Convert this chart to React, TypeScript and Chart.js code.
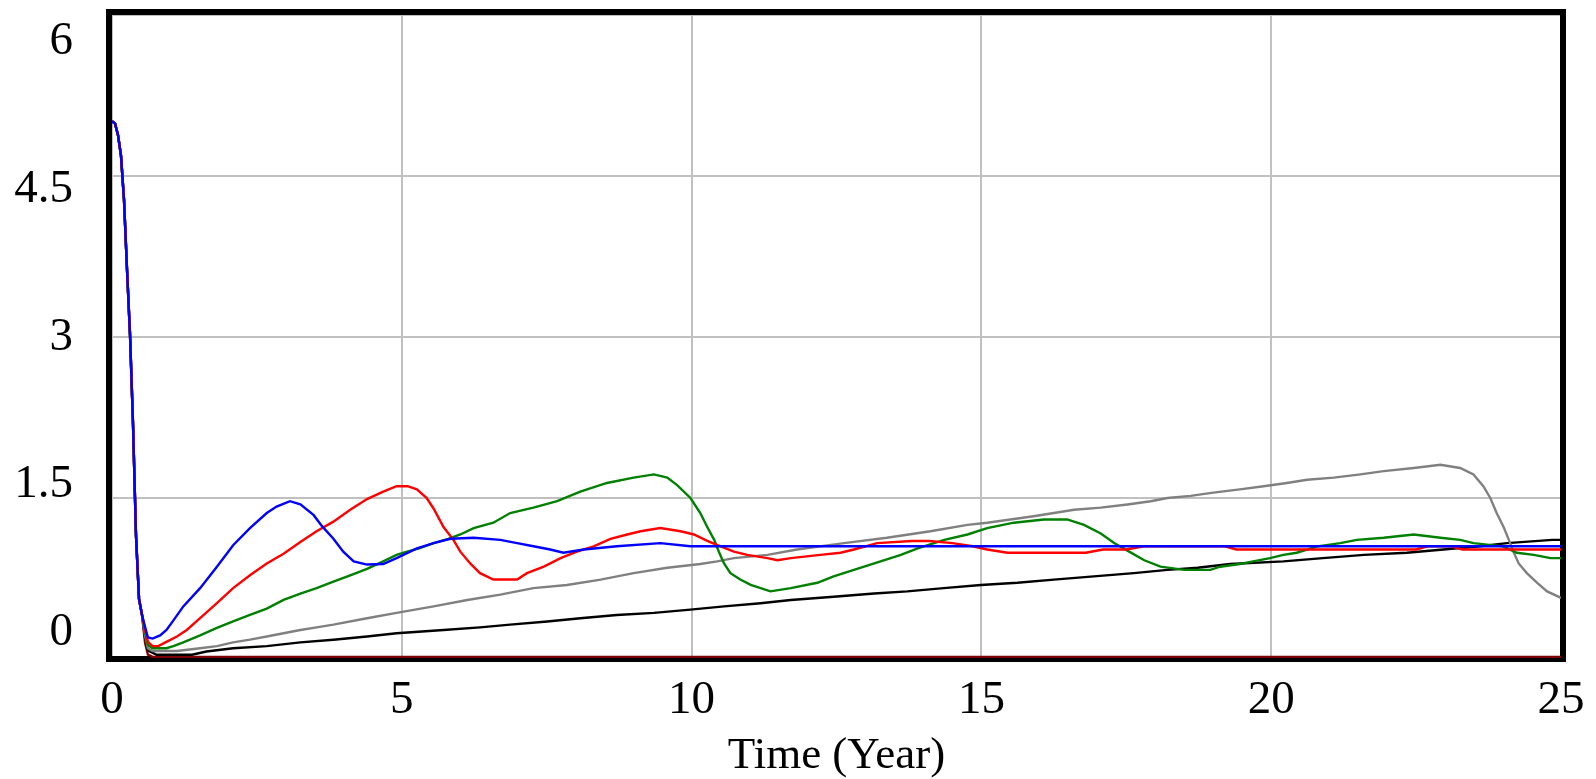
import React, { useEffect, useRef } from 'react';
import { Chart, registerables } from 'chart.js';

Chart.register(...registerables);

// ---- data ----
const xTickValues = [0, 5, 10, 15, 20, 25];
const xTickLabels = ['0', '5', '10', '15', '20', '25'];
const yTickValues = [0, 1.5, 3, 4.5, 6];
const yTickLabels = ['0', '1.5', '3', '4.5', '6'];
const xAxisTitle = 'Time (Year)';

// initial fall shared by all runs (they overlap during the drop)
const initialDrop: number[][] = [
  [0, 5.01], [0.052, 4.99], [0.104, 4.88], [0.155, 4.69], [0.207, 4.28], [0.259, 3.63],
  [0.311, 3.02], [0.363, 2.18], [0.414, 1.15], [0.466, 0.56], [0.518, 0.41],
];

const blueRun: number[][] = [
  [0.57, 0.3], [0.62, 0.2], [0.7, 0.19], [0.83, 0.22], [0.94, 0.27], [1.06, 0.36], [1.23, 0.49],
  [1.52, 0.66], [1.81, 0.86], [2.09, 1.06], [2.38, 1.22], [2.67, 1.36], [2.84, 1.42], [3.07, 1.47],
  [3.25, 1.44], [3.48, 1.34], [3.62, 1.24], [3.82, 1.12], [3.99, 1.0], [4.17, 0.91], [4.4, 0.88],
  [4.68, 0.885], [4.91, 0.94], [5.26, 1.03], [5.55, 1.08], [5.84, 1.12], [6.24, 1.13], [6.7, 1.11],
  [6.99, 1.08], [7.27, 1.05], [7.56, 1.02], [7.79, 0.99], [8.14, 1.02], [8.71, 1.05], [9.46, 1.08],
  [9.98, 1.05], [25, 1.05],
];

const redRun: number[][] = [
  [0.57, 0.27], [0.62, 0.16], [0.7, 0.12], [0.8, 0.12], [0.94, 0.16], [1.12, 0.21], [1.29, 0.27],
  [1.52, 0.38], [1.81, 0.52], [2.09, 0.66], [2.38, 0.78], [2.67, 0.89], [2.96, 0.98], [3.25, 1.09],
  [3.53, 1.19], [3.82, 1.28], [4.11, 1.39], [4.4, 1.49], [4.68, 1.56], [4.91, 1.61], [5.1, 1.61],
  [5.26, 1.58], [5.43, 1.5], [5.55, 1.4], [5.72, 1.23], [5.89, 1.11], [6.01, 1.0], [6.18, 0.89],
  [6.35, 0.8], [6.58, 0.74], [6.99, 0.74], [7.16, 0.8], [7.45, 0.86], [7.74, 0.94], [8.02, 1.0],
  [8.31, 1.05], [8.6, 1.12], [8.89, 1.16], [9.12, 1.19], [9.46, 1.22], [9.81, 1.19], [10.04, 1.16],
  [10.27, 1.1], [10.5, 1.05], [10.73, 1.0], [10.96, 0.97], [11.31, 0.94], [11.48, 0.92], [11.71, 0.94],
  [12.22, 0.97], [12.57, 0.99], [12.8, 1.02], [13.0, 1.05], [13.2, 1.08], [13.8, 1.1], [14.1, 1.1],
  [14.5, 1.08], [14.85, 1.05], [15.1, 1.02], [15.45, 0.99], [16.8, 0.99], [17.1, 1.02], [17.5, 1.02],
  [17.8, 1.05], [19.2, 1.05], [19.4, 1.02], [22.5, 1.02], [22.7, 1.05], [23.1, 1.05], [23.3, 1.02],
  [25, 1.02],
];

const greenRun: number[][] = [
  [0.57, 0.25], [0.62, 0.13], [0.7, 0.1], [0.94, 0.1], [1.06, 0.12], [1.23, 0.155], [1.52, 0.22],
  [1.81, 0.29], [2.09, 0.35], [2.38, 0.41], [2.67, 0.47], [2.96, 0.55], [3.25, 0.61], [3.53, 0.66],
  [3.82, 0.72], [4.11, 0.78], [4.4, 0.84], [4.68, 0.91], [4.91, 0.97], [5.09, 1.0], [5.3, 1.03],
  [5.55, 1.08], [5.8, 1.12], [6.01, 1.16], [6.24, 1.22], [6.58, 1.27], [6.87, 1.36], [7.27, 1.41],
  [7.68, 1.47], [8.08, 1.56], [8.54, 1.64], [9.0, 1.69], [9.35, 1.72], [9.58, 1.69], [9.75, 1.62],
  [9.98, 1.5], [10.15, 1.36], [10.27, 1.23], [10.39, 1.11], [10.47, 1.0], [10.56, 0.89], [10.67, 0.8],
  [10.84, 0.74], [11.02, 0.69], [11.36, 0.63], [11.71, 0.66], [12.17, 0.71], [12.45, 0.77], [12.8, 0.83],
  [13.26, 0.91], [13.61, 0.97], [13.9, 1.03], [14.36, 1.11], [14.76, 1.16], [15.1, 1.22], [15.56, 1.27],
  [16.08, 1.3], [16.48, 1.3], [16.77, 1.25], [17.06, 1.17], [17.29, 1.08], [17.55, 1.0], [17.81, 0.92],
  [18.09, 0.86], [18.5, 0.83], [18.95, 0.83], [19.12, 0.86], [19.46, 0.885], [19.69, 0.91], [19.98, 0.94],
  [20.21, 0.97], [20.44, 0.99], [20.8, 1.05], [21.19, 1.08], [21.48, 1.11], [21.94, 1.13], [22.46, 1.16],
  [22.92, 1.13], [23.26, 1.11], [23.49, 1.08], [24.0, 1.05], [24.24, 0.99], [24.53, 0.97], [24.82, 0.94],
  [25, 0.94],
];

const grayRun: number[][] = [
  [0.57, 0.22], [0.62, 0.1], [0.7, 0.075], [1.12, 0.075], [1.52, 0.1], [1.81, 0.12], [2.09, 0.155],
  [2.38, 0.18], [2.67, 0.21], [2.96, 0.24], [3.25, 0.27], [3.53, 0.295], [3.82, 0.32], [4.4, 0.38],
  [4.91, 0.43], [5.55, 0.49], [6.13, 0.55], [6.7, 0.6], [7.27, 0.66], [7.85, 0.69], [8.43, 0.74],
  [9.0, 0.8], [9.58, 0.85], [10.15, 0.885], [10.44, 0.91], [10.73, 0.94], [11.31, 0.97], [11.82, 1.02],
  [12.63, 1.08], [13.37, 1.13], [14.12, 1.19], [14.76, 1.25], [15.1, 1.27], [15.9, 1.33], [16.6, 1.39],
  [17.06, 1.41], [17.52, 1.44], [17.92, 1.47], [18.21, 1.5], [18.61, 1.52], [19.0, 1.55], [19.46, 1.58],
  [19.87, 1.61], [20.27, 1.64], [20.62, 1.67], [21.08, 1.69], [21.54, 1.72], [21.94, 1.75], [22.46, 1.78],
  [22.92, 1.81], [23.26, 1.78], [23.49, 1.72], [23.66, 1.61], [23.78, 1.5], [23.89, 1.36], [24.01, 1.23],
  [24.1, 1.11], [24.18, 1.0], [24.27, 0.89], [24.41, 0.8], [24.59, 0.71], [24.76, 0.63], [25, 0.57],
];

const blackRun: number[][] = [
  [0.57, 0.2], [0.62, 0.08], [0.77, 0.04], [1.38, 0.04], [1.63, 0.07], [2.09, 0.1], [2.67, 0.12],
  [3.25, 0.155], [3.82, 0.18], [4.4, 0.21], [4.91, 0.24], [5.72, 0.27], [6.35, 0.295], [6.87, 0.32],
  [7.51, 0.35], [8.08, 0.38], [8.71, 0.41], [9.35, 0.43], [9.98, 0.46], [10.56, 0.49], [11.19, 0.52],
  [11.71, 0.55], [12.45, 0.58], [13.15, 0.61], [13.72, 0.63], [14.35, 0.66], [14.99, 0.69], [15.62, 0.71],
  [16.25, 0.74], [16.94, 0.77], [17.63, 0.8], [18.21, 0.83], [18.73, 0.85], [19.29, 0.885], [20.21, 0.91],
  [20.89, 0.94], [21.6, 0.97], [22.34, 0.99], [22.97, 1.02], [23.6, 1.05], [24.07, 1.08], [24.85, 1.11],
  [25, 1.11],
];

const maroonRun: number[][] = [
  [0.57, 0.15], [0.62, 0.04], [0.7, 0.02], [25, 0.02],
];

const seriesColors = ['#0000ff', '#ff0000', '#008000', '#808080', '#000000', '#800000'];
const seriesRuns = [blueRun, redRun, greenRun, grayRun, blackRun, maroonRun];

const FONT = "'Liberation Serif', 'Times New Roman', serif";

const framePlugin = {
  id: 'vensimFrame',
  beforeDatasetsDraw(chart: any) {
    const { ctx, chartArea } = chart;
    const { left, right, top, bottom } = chartArea;
    ctx.save();
    ctx.strokeStyle = '#000000';
    ctx.lineWidth = 6;
    ctx.strokeRect(left - 3, top - 3, right + 2 - (left - 3), bottom - (top - 3));
    ctx.restore();
  },
};

const noEdgePadding = (s: any) => {
  s.paddingTop = 0;
  s.paddingBottom = 0;
  s.paddingLeft = 0;
  s.paddingRight = 0;
};

export default function App() {
  const ref = useRef<HTMLCanvasElement | null>(null);

  useEffect(() => {
    const prevMargin = document.body.style.margin;
    document.body.style.margin = '0';
    const canvas = ref.current;
    if (!canvas) return;

    const datasets = seriesRuns.map((run, i) => ({
      data: [...initialDrop, ...run].map(([t, v]) => ({ x: t, y: v })),
      borderColor: seriesColors[i],
      backgroundColor: seriesColors[i],
      borderWidth: 2.4,
      pointRadius: 0,
      tension: 0,
      fill: false,
    }));

    const chart = new Chart(canvas, {
      type: 'line',
      data: { datasets },
      plugins: [framePlugin],
      options: {
        responsive: false,
        devicePixelRatio: 1,
        animation: false,
        layout: { padding: { left: 0, right: 35, top: 15, bottom: 0 } },
        plugins: { legend: { display: false }, tooltip: { enabled: false } },
        scales: {
          x: {
            type: 'linear',
            position: 'bottom',
            min: 0,
            max: 25,
            afterBuildTicks: (s: any) => {
              s.ticks = xTickValues.map((v) => ({ value: v }));
            },
            grid: { color: '#c0c0c0', lineWidth: 2, drawTicks: false },
            border: { display: false },
            ticks: {
              font: { family: FONT, size: 47 },
              color: '#000000',
              padding: 13,
              maxRotation: 0,
              autoSkip: false,
              callback: (_v: any, i: number) => xTickLabels[i],
            },
            title: {
              display: true,
              text: xAxisTitle,
              color: '#000000',
              font: { family: FONT, size: 45, lineHeight: 1 },
              padding: { top: 0, bottom: 0 },
            },
            afterFit: (s: any) => {
              s.height = 120;
              noEdgePadding(s);
            },
          },
          y: {
            type: 'linear',
            position: 'left',
            min: 0,
            max: 6,
            afterBuildTicks: (s: any) => {
              s.ticks = yTickValues.map((v) => ({ value: v }));
            },
            grid: { color: '#c0c0c0', lineWidth: 2, drawTicks: false },
            border: { display: false },
            ticks: { display: false },
            afterFit: (s: any) => {
              s.width = 0;
              noEdgePadding(s);
            },
          },
          yLabels: {
            type: 'linear',
            position: 'left',
            min: -0.264,
            max: 6.269,
            afterBuildTicks: (s: any) => {
              s.ticks = yTickValues.map((v) => ({ value: v }));
            },
            grid: { display: false, drawTicks: false },
            border: { display: false },
            ticks: {
              font: { family: FONT, size: 47 },
              color: '#000000',
              padding: 39,
              callback: (_v: any, i: number) => yTickLabels[i],
            },
            afterFit: (s: any) => {
              s.width = 112;
              noEdgePadding(s);
            },
          },
        },
      } as any,
    });

    return () => {
      chart.destroy();
      document.body.style.margin = prevMargin;
    };
  }, []);

  return (
    <div style={{ position: 'relative', width: 1596, height: 779, overflow: 'hidden' }}>
      <canvas ref={ref} width={1596} height={779} style={{ display: 'block', width: 1596, height: 779 }} />
    </div>
  );
}
